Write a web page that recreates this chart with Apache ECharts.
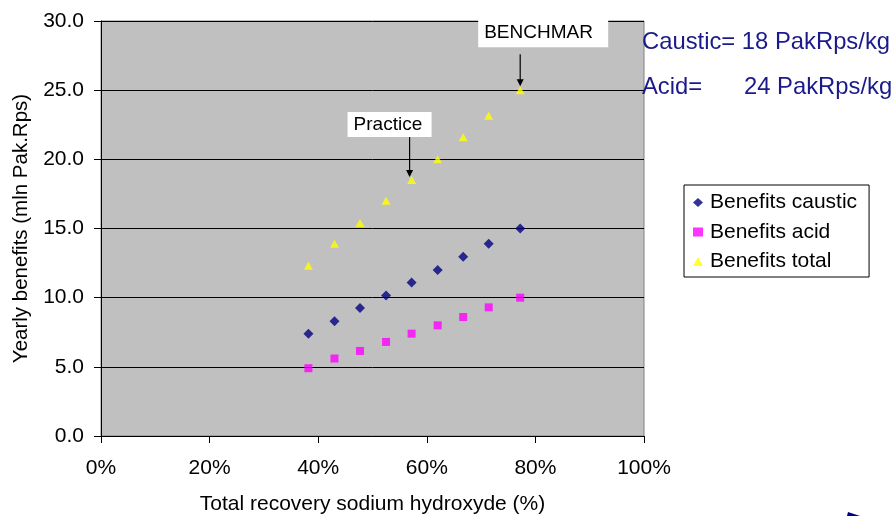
<!DOCTYPE html>
<html>
<head>
<meta charset="utf-8">
<script src="https://cdn.jsdelivr.net/npm/echarts@6/dist/echarts.min.js"></script>
<style>
  html, body { margin: 0; padding: 0; background: #fff; }
  #chart { width: 895px; height: 516px; }
</style>
</head>
<body>
<div id="chart"></div>
<script>
  // recovery share (fraction) and yearly benefits, mln Pak.Rps
  const recovery = [0.382, 0.430, 0.477, 0.525, 0.572, 0.620, 0.667, 0.714, 0.772];
  const caustic = [7.4, 8.3, 9.25, 10.15, 11.1, 12.0, 12.95, 13.9, 15.0];
  const acid = [4.9, 5.6, 6.15, 6.8, 7.4, 8.0, 8.6, 9.3, 10.0];
  const total = [12.3, 13.9, 15.4, 17.0, 18.5, 20.0, 21.6, 23.15, 25.0];
  const yTicks = [0, 5, 10, 15, 20, 25, 30];
  const practiceIdx = 4;
  const benchIdx = 8;

  const font = '"Liberation Sans", Arial, sans-serif';
  const pairs = (ys) => recovery.map((x, i) => [x, ys[i]]);

  const chart = echarts.init(document.getElementById("chart"));

  const option = {
    backgroundColor: "#fff",
    animation: false,
    textStyle: { fontFamily: font },
    grid: {
      left: 101, right: 251, top: 21, bottom: 80,
      containLabel: false,
      outerBoundsMode: "none",
      show: true,
      backgroundColor: "#c0c0c0",
      borderColor: "#808080",
      borderWidth: 1,
    },
    legend: {
      orient: "vertical",
      left: 684,
      top: 185,
      width: 185,
      padding: [7, 12, 5, 9],
      itemGap: 8.5,
      itemWidth: 10,
      itemHeight: 9,
      borderColor: "#000",
      borderWidth: 1,
      backgroundColor: "#fff",
      textStyle: { fontSize: 21, color: "#000", fontFamily: font, padding: [0, 0, 0, 2] },
      data: ["Benefits caustic", "Benefits acid", "Benefits total"],
    },
    xAxis: {
      type: "value",
      min: 0, max: 1, interval: 0.2,
      name: "Total recovery sodium hydroxyde (%)",
      nameLocation: "middle",
      nameGap: 58,
      nameTextStyle: { fontSize: 21, color: "#000", fontFamily: font },
      axisLine: { show: true, lineStyle: { color: "#000" } },
      axisTick: { show: true, inside: false, length: 7, lineStyle: { color: "#000" } },
      axisLabel: {
        fontSize: 21, color: "#000", margin: 22, fontFamily: font,
        formatter: (v) => Math.round(v * 100) + "%",
      },
      splitLine: { show: false },
    },
    yAxis: {
      type: "value",
      min: yTicks[0], max: yTicks[yTicks.length - 1], interval: 5,
      name: "Yearly benefits (mln Pak.Rps)",
      nameLocation: "middle",
      nameGap: 68,
      nameTextStyle: { fontSize: 20.5, color: "#000", fontFamily: font },
      axisLine: { show: true, lineStyle: { color: "#000" } },
      axisTick: { show: true, inside: false, length: 7, lineStyle: { color: "#000" } },
      axisLabel: {
        fontSize: 21, color: "#000", margin: 17, fontFamily: font,
        formatter: (v) => v.toFixed(1),
      },
      splitLine: { show: true, lineStyle: { color: "#000", width: 1 } },
    },
    series: [
      {
        name: "Benefits caustic",
        type: "scatter",
        symbol: "diamond",
        symbolSize: [10, 10],
        itemStyle: { color: "#000080" },
        data: pairs(caustic),
      },
      {
        name: "Benefits acid",
        type: "scatter",
        symbol: "rect",
        symbolSize: 8,
        itemStyle: { color: "#ff00ff" },
        data: pairs(acid),
      },
      {
        name: "Benefits total",
        type: "scatter",
        symbol: "triangle",
        symbolSize: [9, 8],
        itemStyle: { color: "#ffff00" },
        data: pairs(total),
      },
    ],
  };

  chart.setOption(option);

  // callout boxes, anchored on the points they point at
  const callout = (idx, label, box, arrowX, arrowTop, arrowTip) => {
    const [px, py] = chart.convertToPixel({ seriesIndex: 2 }, [recovery[idx], total[idx]]);
    const ax = px + arrowX;
    return [
      {
        type: "rect",
        z: 100,
        shape: { x: px + box[0], y: py + box[1], width: box[2], height: box[3] },
        style: { fill: "#fff" },
      },
      {
        type: "text",
        z: 101,
        x: px + box[0] + 6,
        y: py + box[1] + box[3] / 2,
        style: { text: label, fontSize: 19, fontFamily: font, fill: "#000", verticalAlign: "middle" },
      },
      {
        type: "line",
        z: 101,
        shape: { x1: ax, y1: py + arrowTop, x2: ax, y2: py + arrowTip - 6 },
        style: { stroke: "#000", lineWidth: 1.2 },
      },
      {
        type: "polygon",
        z: 101,
        shape: { points: [[ax - 3.5, py + arrowTip - 7], [ax + 3.5, py + arrowTip - 7], [ax, py + arrowTip]] },
        style: { fill: "#000" },
      },
    ];
  };

  const graphics = [
    ...callout(practiceIdx, "Practice", [-64, -68, 84, 25], -2, -43, -3),
    ...callout(benchIdx, "BENCHMAR", [-42, -71, 130, 28], 0, -36, -4),
    {
      type: "text",
      left: 642, top: 30,
      style: { text: "Caustic= 18 PakRps/kg", fontSize: 23.8, fontFamily: font, fill: "#1a1a8a" },
    },
    {
      type: "text",
      left: 642, top: 75,
      style: { text: "Acid=", fontSize: 23.8, fontFamily: font, fill: "#1a1a8a" },
    },
    {
      type: "text",
      left: 744, top: 75,
      style: { text: "24 PakRps/kg", fontSize: 23.8, fontFamily: font, fill: "#1a1a8a" },
    },
    {
      type: "polygon",
      shape: { points: [[847, 516], [848, 512], [860, 516]] },
      style: { fill: "#000080" },
    },
  ];

  chart.setOption({ graphic: graphics });
</script>
</body>
</html>
